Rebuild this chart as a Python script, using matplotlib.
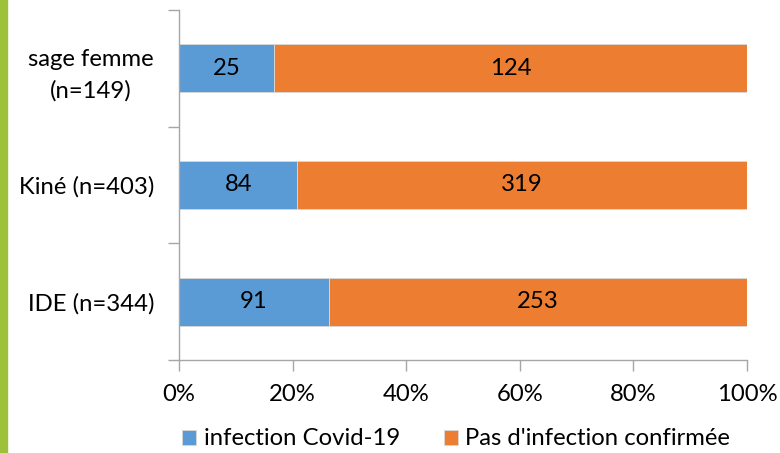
import matplotlib.pyplot as plt
from matplotlib.patches import Rectangle

plt.rcParams['font.family'] = ['Lato', 'DejaVu Sans']

# data (bottom to top)
categories = ["IDE (n=344)", "Kiné (n=403)", "sage femme\n(n=149)"]
infected = [91, 84, 25]
not_infected = [253, 319, 124]
series_names = ["infection Covid-19", "Pas d'infection confirmée"]
colors = ["#5b9bd5", "#ed7d31"]

totals = [a + b for a, b in zip(infected, not_infected)]
share_inf = [a / t * 100 for a, t in zip(infected, totals)]
share_not = [b / t * 100 for b, t in zip(not_infected, totals)]

fs = 17.2

fig = plt.figure(figsize=(7.8, 4.53), dpi=100)
ax = fig.add_axes([0.2295, 0.2053, 0.728, 0.7727])

ypos = range(len(categories))
b1 = ax.barh(ypos, share_inf, height=0.41, color=colors[0],
             edgecolor="#d9d9d9", linewidth=0.6, label=series_names[0])
b2 = ax.barh(ypos, share_not, left=share_inf, height=0.41, color=colors[1],
             edgecolor="#d9d9d9", linewidth=0.6, label=series_names[1])
ax.bar_label(b1, labels=[str(v) for v in infected], label_type="center", fontsize=fs)
ax.bar_label(b2, labels=[str(v) for v in not_infected], label_type="center", fontsize=fs)

ax.set_xlim(0, 100)
ax.set_ylim(-0.5, 2.5)
ax.set_xticks([0, 20, 40, 60, 80, 100])
ax.set_xticklabels([f"{v}%" for v in [0, 20, 40, 60, 80, 100]])
ax.set_yticks(list(ypos))
ax.set_yticklabels(categories, multialignment="center", linespacing=1.55)
ax.set_yticks([-0.5, 0.5, 1.5, 2.5], minor=True)

for s in ["top", "right"]:
    ax.spines[s].set_visible(False)
for s in ["left", "bottom"]:
    ax.spines[s].set_color("#a6a6a6")
    ax.spines[s].set_linewidth(1.0)

ax.tick_params(axis="y", which="major", length=0, pad=18, labelsize=fs)
ax.tick_params(axis="y", which="minor", length=8, color="#a6a6a6", width=1)
ax.tick_params(axis="x", length=8, color="#a6a6a6", width=1, pad=9, labelsize=fs)

leg = fig.legend(loc="center", bbox_to_anchor=(0.585, 0.031), ncol=2, frameon=False,
                 fontsize=fs, handlelength=0.59, handleheight=0.59,
                 handletextpad=0.3, columnspacing=1.85)

# green band on the left edge
fig.patches.append(Rectangle((0, 0), 7 / 780, 1, transform=fig.transFigure,
                             color="#9dc23a", zorder=0))

fig.savefig("out.png", dpi=100)
